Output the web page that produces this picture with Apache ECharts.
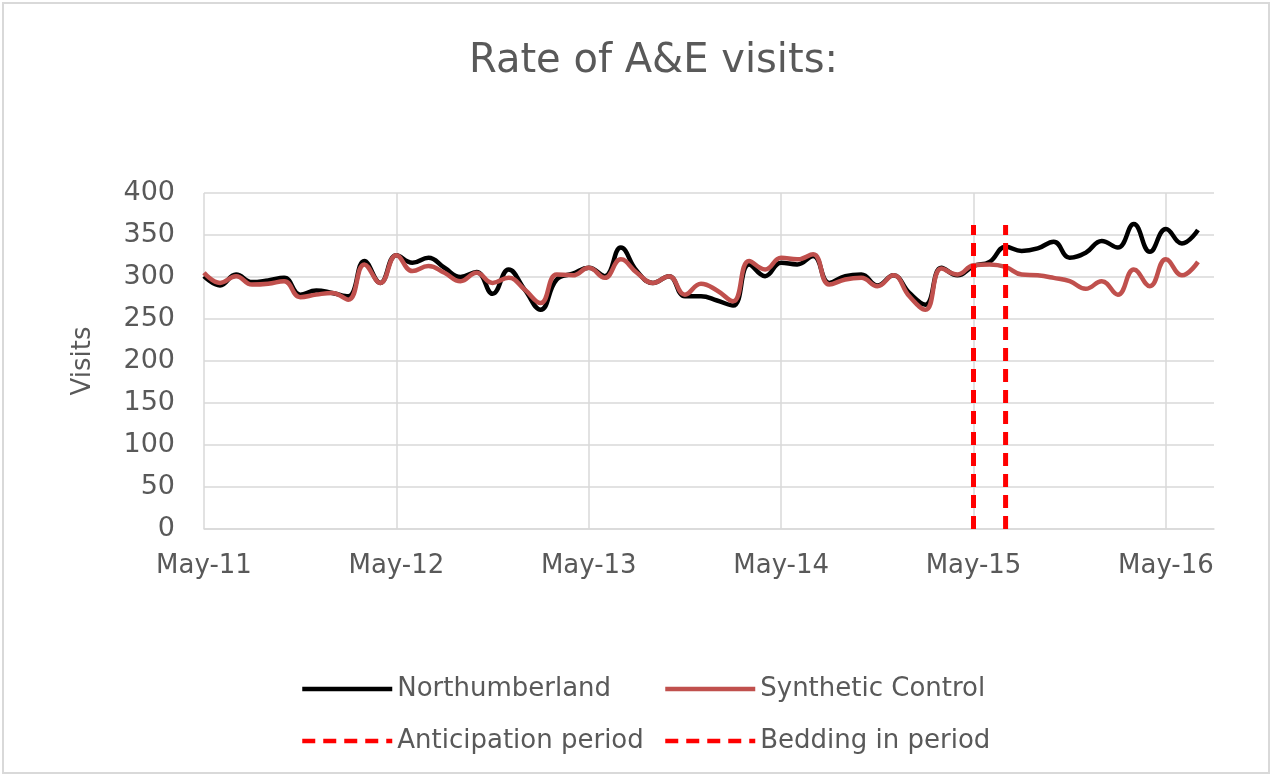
<!DOCTYPE html>
<html>
<head>
<meta charset="utf-8">
<script src="https://cdn.jsdelivr.net/npm/echarts@6/dist/echarts.min.js"></script>
<style>
html,body{margin:0;padding:0;background:#fff;}
#wrap{position:absolute;left:2px;top:2px;width:1268px;height:772px;border:2px solid #D9D9D9;box-sizing:border-box;}
#chart{position:absolute;left:0;top:0;width:1274px;height:776px;}
</style>
</head>
<body>
<div id="wrap"></div>
<div id="chart"></div>
<script>
var months = [
 'May-11','Jun-11','Jul-11','Aug-11','Sep-11','Oct-11','Nov-11','Dec-11','Jan-12','Feb-12','Mar-12','Apr-12',
 'May-12','Jun-12','Jul-12','Aug-12','Sep-12','Oct-12','Nov-12','Dec-12','Jan-13','Feb-13','Mar-13','Apr-13',
 'May-13','Jun-13','Jul-13','Aug-13','Sep-13','Oct-13','Nov-13','Dec-13','Jan-14','Feb-14','Mar-14','Apr-14',
 'May-14','Jun-14','Jul-14','Aug-14','Sep-14','Oct-14','Nov-14','Dec-14','Jan-15','Feb-15','Mar-15','Apr-15',
 'May-15','Jun-15','Jul-15','Aug-15','Sep-15','Oct-15','Nov-15','Dec-15','Jan-16','Feb-16','Mar-16','Apr-16',
 'May-16','Jun-16','Jul-16','Aug-16'
];
var northumberland = [
 301,290,303,294,296,299,279,284,281,277,319,293,
 326,317,323,311,300,306,280,309,285,261,297,304,
 311,301,335,307,293,301,277,277,272,266,315,301,
 317,315,325,293,301,303,290,302,281,267,311,302,
 313,318,336,331,334,342,323,329,343,335,363,330,
 357,340,356
];
var syntheticControl = [
 305,293,301,291,292,295,276,279,281,273,315,293,
 326,307,313,305,295,305,293,299,285,269,303,302,
 311,299,321,305,293,301,279,292,284,271,319,309,
 323,321,327,291,297,299,289,302,277,261,310,303,
 314,315,312,303,302,299,295,286,295,279,309,289,
 321,302,318
];
var anticipationMonth = 'May-15';
var beddingInMonth = 'Jul-15';
var periodLineTop = 362;
var yTicks = [0, 50, 100, 150, 200, 250, 300, 350, 400];

var FONT = "'DejaVu Sans',sans-serif";
var TXT = '#595959';

var chart = echarts.init(document.getElementById('chart'), null, {renderer:'canvas'});
var legendCommon = {
  orient: 'vertical', itemGap: 26,
  itemWidth: 90, itemHeight: 14,
  itemStyle: {opacity: 0},
  lineStyle: {width: 4.5},
  textStyle: {fontFamily: FONT, fontSize: 26, color: TXT, padding: [0,0,0,0]}
};
chart.setOption({
  backgroundColor: 'transparent',
  animation: false,
  title: {
    text: 'Rate of A&E visits:',
    left: 464, top: 37,
    textStyle: {fontFamily: FONT, fontSize: 40, fontWeight: 'normal', color: TXT}
  },
  legend: [
    Object.assign({left: 295, top: 671, data: ['Northumberland', 'Anticipation period']}, legendCommon),
    Object.assign({left: 658, top: 671, data: ['Synthetic Control', 'Bedding in period']}, legendCommon)
  ],
  grid: {left: 204, right: 60, top: 193, bottom: 247, containLabel: false},
  xAxis: {
    type: 'category',
    data: months,
    boundaryGap: false,
    axisLine: {show: true, lineStyle: {color: '#D9D9D9', width: 1.5}},
    axisTick: {show: false},
    axisLabel: {interval: 11, color: TXT, fontFamily: FONT, fontSize: 26, margin: 24},
    splitLine: {show: true, interval: 11, lineStyle: {color: '#D9D9D9', width: 1.5}}
  },
  yAxis: {
    type: 'value',
    min: yTicks[0], max: yTicks[yTicks.length-1], interval: 50,
    name: 'Visits', nameLocation: 'middle', nameGap: 108, nameRotate: 90,
    nameTextStyle: {fontFamily: FONT, fontSize: 26, color: TXT},
    axisLine: {show: false},
    axisTick: {show: false},
    axisLabel: {color: TXT, fontFamily: FONT, fontSize: 27, margin: 29},
    splitLine: {show: true, lineStyle: {color: '#D9D9D9', width: 1.5}}
  },
  series: [{
    name: 'Northumberland', type: 'line', data: northumberland,
    smooth: 0.45, symbol: 'none', z: 3,
    lineStyle: {color: '#000000', width: 4.5},
    itemStyle: {color: '#000000'}
  }, {
    name: 'Synthetic Control', type: 'line', data: syntheticControl,
    smooth: 0.45, symbol: 'none', z: 4,
    lineStyle: {color: '#C0504D', width: 4.5},
    itemStyle: {color: '#C0504D'}
  }, {
    name: 'Anticipation period', type: 'line',
    data: [[anticipationMonth, 0], [anticipationMonth, periodLineTop]],
    symbol: 'none', z: 5,
    lineStyle: {color: '#FF0000', width: 5, type: [13, 8]},
    itemStyle: {color: '#FF0000'}
  }, {
    name: 'Bedding in period', type: 'line',
    data: [[beddingInMonth, 0], [beddingInMonth, periodLineTop]],
    symbol: 'none', z: 5,
    lineStyle: {color: '#FF0000', width: 5, type: [13, 8]},
    itemStyle: {color: '#FF0000'}
  }]
});
</script>
</body>
</html>
